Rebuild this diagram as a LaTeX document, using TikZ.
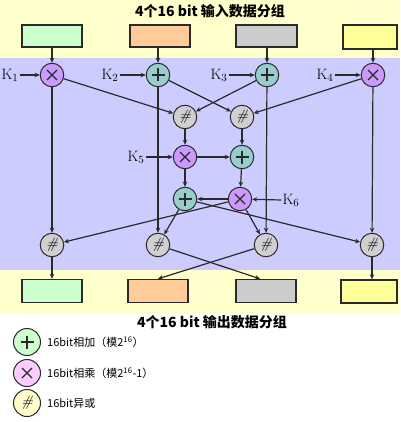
\documentclass[tikz,border=0pt]{standalone}
\usepackage{fontspec}
\newfontfamily\cjk{Noto Sans CJK SC}
\usetikzlibrary{arrows.meta}
\definecolor{yel}{HTML}{FFFFCC}
\definecolor{blu}{HTML}{CCCCFF}
\definecolor{cA}{HTML}{CCFFCC}
\definecolor{cB}{HTML}{FFCC99}
\definecolor{cC}{HTML}{CCCCCC}
\definecolor{cD}{HTML}{FFFF99}
\definecolor{mulc}{HTML}{CC99FF}
\definecolor{addc}{HTML}{99CCCC}
\definecolor{xorc}{HTML}{D0D0D0}
\definecolor{lc}{HTML}{2A2A2A}
\definecolor{lgA}{HTML}{CCFFCC}
\definecolor{lgB}{HTML}{FFCCFF}
\definecolor{lgC}{HTML}{FFFFCC}
\begin{document}
\begin{tikzpicture}[x=1pt,y=-1pt,
  conn/.style={draw=lc, line width=1.2pt, -{Stealth[length=5pt,width=4.5pt]}},
  op/.style={circle, draw=lc, line width=1pt, minimum size=23.5pt, inner sep=0pt},
  plusmark/.style={path picture={\draw[lc,line width=1.1pt]
     ([xshift=-6.5pt]path picture bounding box.center) -- ([xshift=6.5pt]path picture bounding box.center)
     ([yshift=-6.5pt]path picture bounding box.center) -- ([yshift=6.5pt]path picture bounding box.center);}},
  timesmark/.style={path picture={\draw[lc,line width=1.1pt]
     ([shift={(-5pt,-5pt)}]path picture bounding box.center) -- ([shift={(5pt,5pt)}]path picture bounding box.center)
     ([shift={(-5pt,5pt)}]path picture bounding box.center) -- ([shift={(5pt,-5pt)}]path picture bounding box.center);}},
  addop/.style={op, fill=addc, plusmark},
  mulop/.style={op, fill=mulc, timesmark},
  xorop/.style={op, fill=xorc, font=\fontsize{15}{15}\selectfont\itshape},
  blk/.style={draw=lc, line width=1.4pt, minimum width=60pt, minimum height=22pt, inner sep=0pt},
  key/.style={font=\fontsize{15}{15}\selectfont, inner sep=1pt},
  title/.style={font=\cjk\bfseries\fontsize{14}{14}\selectfont, inner sep=0pt},
  legtext/.style={font=\cjk\fontsize{11}{11}\selectfont, anchor=west, inner sep=0pt},
  legop/.style={circle, draw=lc, line width=1pt, minimum size=27pt, inner sep=0pt}
]
\useasboundingbox (0,0) rectangle (400,422);
\fill[white] (0,0) rectangle (400,422);
\fill[yel] (0,0) rectangle (400,58);
\fill[blu] (0,58) rectangle (400,270);
\fill[yel] (0,270) rectangle (400,313);

\node[title] (tin) at (210,11) {4个16 bit 输入数据分组};
\node[title] (tout) at (212,322) {4个16 bit 输出数据分组};

% input blocks
\node[blk, fill=cA] (in1) at (52,36) {};
\node[blk, fill=cB] (in2) at (160,36) {};
\node[blk, fill=cC, minimum width=61pt] (in3) at (266.5,36) {};
\node[blk, fill=cD, minimum width=54pt, minimum height=24pt] (in4) at (370,37) {};

% operation nodes
\node[mulop] (m1) at (52,75) {};
\node[addop] (a2) at (158,75) {};
\node[addop] (a3) at (267,75) {};
\node[mulop] (m4) at (373,75) {};
\node[xorop] (xa) at (185,117) {\#};
\node[xorop] (xb) at (242,117) {\#};
\node[mulop] (m5) at (185,157) {};
\node[addop] (a6) at (242,157) {};
\node[addop] (a7) at (185,199) {};
\node[mulop] (m8) at (240,199) {};
\node[xorop] (x1) at (52,245) {\#};
\node[xorop] (x2) at (158,245) {\#};
\node[xorop] (x3) at (266,245) {\#};
\node[xorop] (x4) at (372,245) {\#};

% output blocks
\node[blk, fill=cA, minimum height=23pt] (o1) at (52,291) {};
\node[blk, fill=cB, minimum height=23pt] (o2) at (158,291) {};
\node[blk, fill=cC, minimum height=23pt] (o3) at (266,291) {};
\node[blk, fill=cD, minimum width=56pt, minimum height=23pt] (o4) at (369,291.5) {};

% keys
\node[key] (k1) at (10,75) {K$_1$};
\node[key] (k2) at (110,75) {K$_2$};
\node[key] (k3) at (219,75) {K$_3$};
\node[key] (k4) at (325,75) {K$_4$};
\node[key] (k5) at (136,157) {K$_5$};
\node[key] (k6) at (291,200) {K$_6$};

% inputs to first row
\draw[conn] (in1) -- (m1);
\draw[conn] (in2.south -| a2) -- (a2);
\draw[conn] (in3.south -| a3) -- (a3);
\draw[conn] (in4.south -| m4) -- (m4);

% keys to ops
\draw[conn] (k1) -- (m1);
\draw[conn] (k2) -- (a2);
\draw[conn] (k3) -- (a3);
\draw[conn] (k4) -- (m4);
\draw[conn] (k5) -- (m5);
\draw[conn] (k6.west) -- (m8);

% first row to xor
\draw[conn] (m1) -- (xa);
\draw[conn] (a3) -- (xa);
\draw[conn] (a2) -- (xb);
\draw[conn] (m4) -- (xb);

% MA structure
\draw[conn] (xa) -- (m5);
\draw[conn] (xb) -- (a6);
\draw[conn] (m5) -- (a6);
\draw[conn] (a6) -- (m8);
\draw[conn] (m5) -- (a7);
\draw[conn] (m8) -- (a7);

% long verticals
\draw[conn] (m1) -- (x1);
\draw[conn] (a2) -- (x2);
\draw[conn] (a3) -- (x3);
\draw[conn] (m4) -- (x4);

% MA outputs to final xors
\draw[conn] (m8) -- (x1);
\draw[conn] (m8) -- (x3);
\draw[conn] (a7) -- (x2);
\draw[conn] (a7) -- (x4);

% outputs
\draw[conn] (x1) -- (o1);
\draw[conn] (x2) -- ([xshift=-6pt]o3.north);
\draw[conn] (x3) -- (o2.north);
\draw[conn] (x4) -- (x4 |- o4.north);

% legend
\node[legop, fill=lgA, plusmark] (l1) at (27,342) {};
\node[legop, fill=lgB, timesmark] (l2) at (27,373) {};
\node[legop, fill=lgC, font=\fontsize{15}{15}\selectfont\itshape] (l3) at (27,403) {\#};
\node[legtext] (lt1) at (47,342) {16bit相加（模2\textsuperscript{16}）};
\node[legtext] (lt2) at (47,373) {16bit相乘（模2\textsuperscript{16}-1）};
\node[legtext] (lt3) at (47,403) {16bit异或};
\end{tikzpicture}
\end{document}
